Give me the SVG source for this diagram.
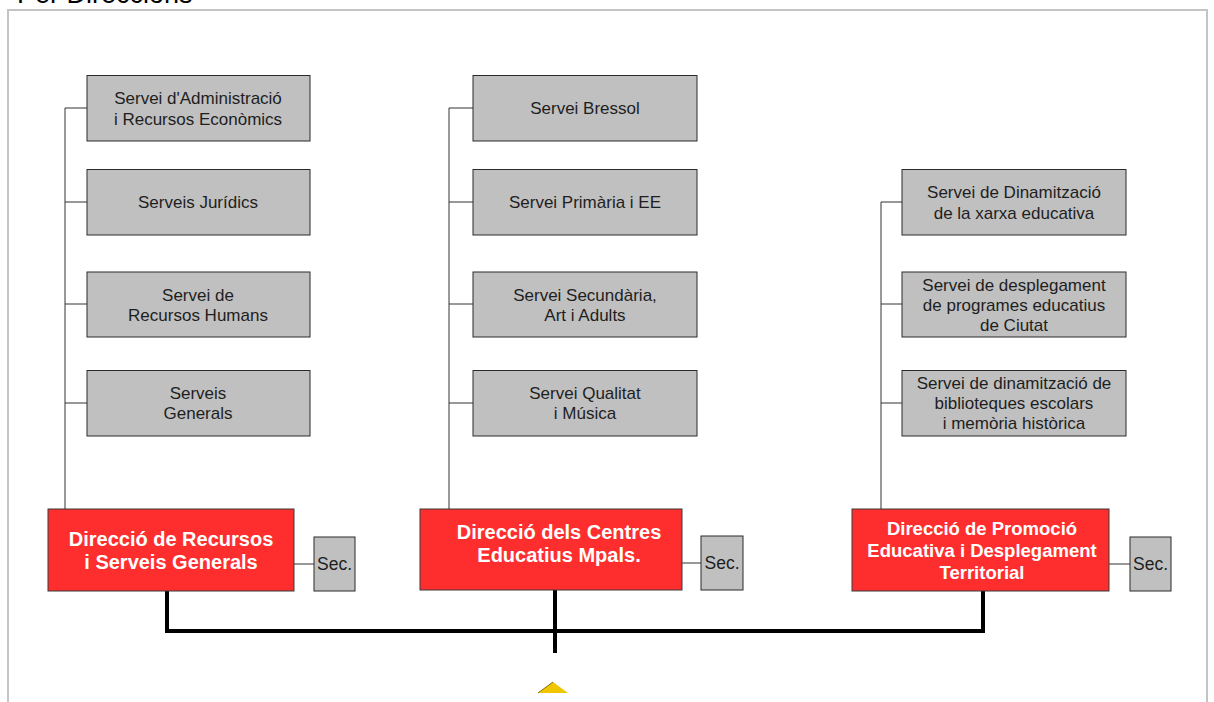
<svg xmlns="http://www.w3.org/2000/svg" width="1214" height="702" viewBox="0 0 1214 702">
<style>
.g rect{fill:#c0c0c0;stroke:#2a2a2a;stroke-width:1}
.g text{font-family:"Liberation Sans",Arial,sans-serif;font-size:17px;fill:#1e1e1e;text-anchor:middle}
.r rect{fill:#ff2e2e;stroke:#3a3a3a;stroke-width:1}
.r text{font-family:"Liberation Sans",Arial,sans-serif;font-size:20px;font-weight:bold;fill:#ffffff;text-anchor:middle}
.s text{font-size:17.5px}
.thin{stroke:#333;stroke-width:1;fill:none}
.thick{stroke:#000;stroke-width:4;fill:none}
</style>
<rect width="1214" height="702" fill="#ffffff"/>
<text x="17" y="3" font-family="Liberation Sans,Arial,sans-serif" font-size="27" fill="#000">Per Direccions</text>
<path d="M8 702 V10 H1207 V702" fill="none" stroke="#c4c4c4" stroke-width="2"/>
<g id="connectors">
<path class="thin" d="M65 509 V108 H87 M65 202 H87 M65 304 H87 M65 403 H87"/>
<path class="thin" d="M449 509 V108 H473 M449 202 H473 M449 304 H473 M449 403 H473"/>
<path class="thin" d="M881 509 V202 H902 M881 304 H902 M881 403 H902"/>
<path class="thin" d="M294 564 H314 M682 563 H701 M1109 564 H1130"/>
<path class="thick" d="M167 591 V631 H983 V591 M555 590 V653"/>
</g>
<g id="n1a" class="g"><rect x="87" y="75.5" width="223" height="65.5"/><text x="198" y="104">Servei d'Administració</text><text x="198" y="125">i Recursos Econòmics</text></g>
<g id="n1b" class="g"><rect x="87" y="169.5" width="223" height="65.5"/><text x="198" y="208">Serveis Jurídics</text></g>
<g id="n1c" class="g"><rect x="87" y="272" width="223" height="65"/><text x="198" y="301">Servei de</text><text x="198" y="321">Recursos Humans</text></g>
<g id="n1d" class="g"><rect x="87" y="370.5" width="223" height="65.5"/><text x="198" y="399">Serveis</text><text x="198" y="419">Generals</text></g>
<g id="n2a" class="g"><rect x="473" y="75.5" width="224" height="65.5"/><text x="585" y="114">Servei Bressol</text></g>
<g id="n2b" class="g"><rect x="473" y="169.5" width="224" height="65.5"/><text x="585" y="208">Servei Primària i EE</text></g>
<g id="n2c" class="g"><rect x="473" y="272" width="224" height="65"/><text x="585" y="301">Servei Secundària,</text><text x="585" y="321">Art i Adults</text></g>
<g id="n2d" class="g"><rect x="473" y="370.5" width="224" height="65.5"/><text x="585" y="399">Servei Qualitat</text><text x="585" y="419">i Música</text></g>
<g id="n3a" class="g"><rect x="902" y="169.5" width="224" height="65.5"/><text x="1014" y="198">Servei de Dinamització</text><text x="1014" y="219">de la xarxa educativa</text></g>
<g id="n3b" class="g"><rect x="902" y="272" width="224" height="65"/><text x="1014" y="291">Servei de desplegament</text><text x="1014" y="311">de programes educatius</text><text x="1014" y="331">de Ciutat</text></g>
<g id="n3c" class="g"><rect x="902" y="370.5" width="224" height="65.5"/><text x="1014" y="389">Servei de dinamització de</text><text x="1014" y="409">biblioteques escolars</text><text x="1014" y="429">i memòria històrica</text></g>
<g id="d1" class="r"><rect x="48" y="509" width="246" height="82"/><text x="171" y="546">Direcció de Recursos</text><text x="171" y="569">i Serveis Generals</text></g>
<g id="d2" class="r"><rect x="420" y="509" width="262" height="81"/><text x="559" y="539">Direcció dels Centres</text><text x="559" y="562">Educatius Mpals.</text></g>
<g id="d3" class="r"><rect x="852" y="509" width="257" height="82"/><text x="982" y="535" style="font-size:18.5px">Direcció de Promoció</text><text x="982" y="557" style="font-size:18.5px">Educativa i Desplegament</text><text x="982" y="579" style="font-size:18.5px">Territorial</text></g>
<g id="s1" class="g s"><rect x="314" y="537" width="41" height="54"/><text x="334.5" y="570">Sec.</text></g>
<g id="s2" class="g s"><rect x="701" y="536" width="42" height="54"/><text x="722" y="569">Sec.</text></g>
<g id="s3" class="g s"><rect x="1130" y="537" width="41" height="54"/><text x="1150.5" y="570">Sec.</text></g>
<polygon points="538,693 553,682 568,693" fill="#efc600"/>
<line x1="538" y1="693" x2="553" y2="682" stroke="#8a7000" stroke-width="1"/>
</svg>
